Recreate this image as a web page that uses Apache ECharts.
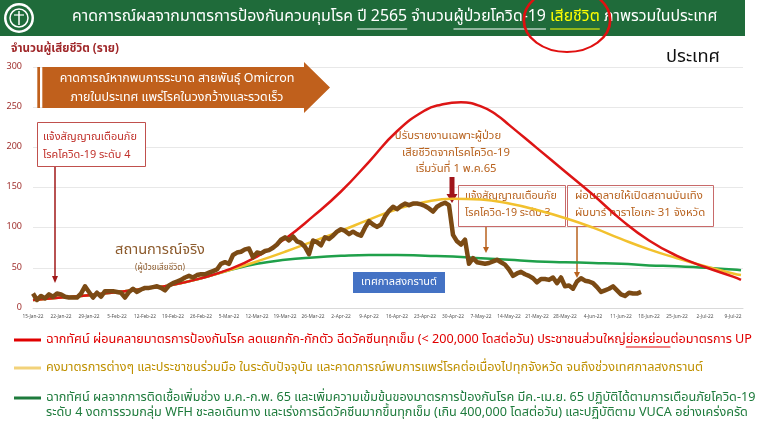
<!DOCTYPE html>
<html><head><meta charset="utf-8">
<script src="https://cdn.jsdelivr.net/npm/echarts@6/dist/echarts.min.js"></script>
<style>html,body{margin:0;padding:0;background:#fff}#c{width:759px;height:426px}</style>
</head><body><div id="c"></div>
<script>
// ---------------- DATA ----------------
const startDateUTC = Date.UTC(2022, 0, 15);           // day 0 = 15-Jan-22
const monthNames = ['Jan','Feb','Mar','Apr','May','Jun','Jul','Aug','Sep','Oct','Nov','Dec'];
// actual daily deaths, 15-Jan-22 .. 16-Jun-22
const actualDeaths = [
 18,10,15,12,17,14,18,17,14,13,
 13,13,18,27,20,13,19,14,21,21,
 21,20,19,13,20,24,20,23,25,25,
 26,27,25,22,28,31,33,35,38,40,
 38,41,42,42,44,46,48,55,57,55,
 66,69,70,73,74,63,69,68,71,72,
 75,79,85,88,84,89,83,81,76,67,
 84,82,78,88,86,90,95,98,96,92,
 95,92,90,100,108,104,101,104,114,121,
 126,123,127,130,128,130,130,129,127,124,
 120,126,129,131,128,91,83,79,85,55,
 62,57,56,55,56,58,60,57,54,48,
 40,43,45,42,40,37,32,36,36,35,
 38,31,38,27,28,24,33,37,34,33,
 31,26,20,22,24,27,22,17,15,19,
 18,18,20];
// projection curves (day offset from 15-Jan-22)
const redDays        = [0,7,14,21,28,35,42,49,56,63,70,77,84,91,98,102,107,112,116,119,126,133,140,147,154,161,168,175,177];
const redScenario    = [10,13,16,20,24,29,37,48,64,86,114,145,182,220,246,253,256,251,240,228,199,170,141,110,84,65,51,39,35];
const projDays       = [0,7,14,21,28,35,42,49,56,63,70,77,84,91,98,105,112,119,126,133,140,147,154,161,168,175,177];
const yellowScenario = [10,13,16,20,24,29,37,47,58,70,83,96,110,123,132,136,135,130,122,112,100,86,73,62,52,43,41];
const greenScenario  = [10,13,16,20,24,29,37,47,55,60,63,65,66,66,65,64,62,60,58,57,56,55,53,52,50,48,47];

const redName    = 'ฉากทัศน์ ผ่อนคลายมาตรการป้องกันโรค ลดแยกกัก-กักตัว ฉีดวัคซีนทุกเข็ม (< 200,000 โดสต่อวัน) ประชาชนส่วนใหญ่ย่อหย่อนต่อมาตรการ UP';
const yellowName = 'คงมาตรการต่างๆ และประชาชนร่วมมือ ในระดับปัจจุบัน และคาดการณ์พบการแพร่โรคต่อเนื่องไปทุกจังหวัด จนถึงช่วงเทศกาลสงกรานต์';
const greenName  = 'ฉากทัศน์ ผลจากการติดเชื้อเพิ่มช่วง ม.ค.-ก.พ. 65 และเพิ่มความเข้มข้นของมาตรการป้องกันโรค มีค.-เม.ย. 65 ปฏิบัติได้ตามการเตือนภัยโควิด-19';
const greenLine2 = 'ระดับ 4 งดการรวมกลุ่ม WFH ชะลอเดินทาง และเร่งการฉีดวัคซีนมากขึ้นทุกเข็ม (เกิน 400,000 โดสต่อวัน) และปฏิบัติตาม VUCA อย่างเคร่งครัด';
const actualName = 'สถานการณ์จริง';

const titleParts = [
 ['คาดการณ์ผลจากมาตรการป้องกันควบคุมโรค ', '#ffffff', false],
 ['ปี 2565', '#ffffff', true],
 [' จำนวน', '#ffffff', false],
 ['ผู้ป่วยโควิด-19', '#ffffff', true],
 [' ', '#ffffff', false],
 ['เสียชีวิต', '#ffff00', true],
 [' ภาพรวมในประเทศ', '#ffffff', false]
];

// ---------------- HELPERS ----------------
const FONT = '"Noto Sans Thai","Noto Sans","Noto Sans CJK SC",sans-serif';
const cv = document.createElement('canvas').getContext('2d');
function tw(text, size, weight) { cv.font = (weight || 'normal') + ' ' + size + 'px ' + FONT; return cv.measureText(text).width; }
function fitSize(text, base, target, weight) { const w = tw(text, base, weight); return Math.max(4, Math.min(base * 1.6, base * target / w)); }
function T(x, y, text, color, size, o) {
  o = o || {};
  return { type: 'text', x: x, y: y, z: o.z || 1, style: {
    text: text, fill: color, fontSize: size, fontFamily: FONT, fontWeight: o.weight || 'normal',
    align: o.align || 'left', textAlign: o.align || 'left', verticalAlign: 'middle', textVerticalAlign: 'middle' } };
}
function R(x, y, w, h, fill, stroke, lw) {
  return { type: 'rect', z: 1, shape: { x: x, y: y, width: w, height: h }, style: { fill: fill || 'none', stroke: stroke || 'none', lineWidth: lw || 1 } };
}
function L(x1, y1, x2, y2, color, lw, z) {
  return { type: 'line', z: z || 1, shape: { x1: x1, y1: y1, x2: x2, y2: y2 }, style: { stroke: color, lineWidth: lw } };
}
function downArrow(x, y1, y2, color, lw, hw, hl) {
  return [L(x, y1, x, y2 - hl + 1, color, lw),
    { type: 'polygon', z: 1, shape: { points: [[x - hw, y2 - hl], [x + hw, y2 - hl], [x, y2]] }, style: { fill: color } }];
}
function fmtDay(d) {
  const dt = new Date(startDateUTC + d * 86400000);
  return dt.getUTCDate() + '-' + monthNames[dt.getUTCMonth()] + '-22';
}

// ---------------- GRAPHICS ----------------
const g = [];
// banner
g.push(R(0, 0, 745, 36, '#1f6b3a'));
g.push({ type: 'circle', z: 2, shape: { cx: 19, cy: 18, r: 15 }, style: { fill: '#ffffff' } });
g.push({ type: 'circle', z: 2, shape: { cx: 19, cy: 18, r: 12.5 }, style: { fill: '#1f6b3a' } });
g.push({ type: 'circle', z: 2, shape: { cx: 19, cy: 18, r: 9 }, style: { fill: 'none', stroke: '#ffffff', lineWidth: 1.5 } });
g.push(L(19, 11, 19, 25, '#ffffff', 1.5, 2));
g.push(L(14, 15, 24, 15, '#ffffff', 1.2, 2));

// title with measured underline positions
(function () {
  const full = titleParts.map(p => p[0]).join('');
  const fs = fitSize(full, 17, 646);
  let x = 72;
  titleParts.forEach(p => {
    const w = tw(p[0], fs);
    g.push(T(x, 18, p[0], p[1], fs, { z: 3 }));
    if (p[2]) g.push(L(x, 29, x + w, 29, p[1], 1.2, 3));
    x += w;
  });
})();
// red hand-drawn ellipse
g.push({ type: 'circle', z: 5, x: 567, y: 20, scaleX: 1.08, scaleY: 0.8, shape: { cx: 0, cy: 0, r: 40 },
  style: { fill: 'none', stroke: '#e01010', lineWidth: 2.5 } });

// axis title and country label
g.push(T(11, 50, 'จำนวนผู้เสียชีวิต (ราย)', '#a0282a', fitSize('จำนวนผู้เสียชีวิต (ราย)', 10, 108, 'bold'), { weight: 'bold' }));
g.push(T(693, 58, 'ประเทศ', '#111111', fitSize('ประเทศ', 18, 54), { align: 'center' }));

// orange arrow banner
g.push(R(37.3, 67, 2.7, 41, '#c0601c'));
g.push(R(42.3, 67, 2.7, 41, '#c0601c'));
g.push({ type: 'polygon', z: 1, shape: { points: [[45, 67], [304, 67], [304, 62], [330, 87.5], [304, 113], [304, 108], [45, 108]] }, style: { fill: '#c0601c' } });
(function () {
  const a = 'คาดการณ์หากพบการระบาด สายพันธุ์ Omicron', b = 'ภายในประเทศ แพร่โรคในวงกว้างและรวดเร็ว';
  const fs = fitSize(a, 13, 235);
  g.push(T(177, 79, a, '#ffffff', fs, { align: 'center' }));
  g.push(T(177, 98, b, '#ffffff', fs, { align: 'center' }));
})();

// box 1 (level 4)
g.push(R(37.5, 122.5, 108, 44, '#ffffff', '#c0504d', 1));
(function () {
  const a = 'แจ้งสัญญาณเตือนภัย', b = 'โรคโควิด-19 ระดับ 4';
  const fs = fitSize(a, 12, 94);
  g.push(T(43, 138, a, '#c0302a', fs));
  g.push(T(43, 156, b, '#c0302a', fs));
})();
downArrow(55, 167, 283, '#a01818', 1.5, 3, 7).forEach(e => g.push(e));

// actual situation label
g.push(T(160, 251, 'สถานการณ์จริง', '#8c5a2c', fitSize('สถานการณ์จริง', 17, 90), { align: 'center' }));
g.push(T(160, 268, '(ผู้ป่วยเสียชีวิต)', '#8c5a2c', fitSize('(ผู้ป่วยเสียชีวิต)', 8, 50), { align: 'center' }));

// Songkran box
g.push(R(353, 272, 92, 21, '#4472c4'));
g.push(T(399, 282.5, 'เทศกาลสงกรานต์', '#ffffff', fitSize('เทศกาลสงกรานต์', 11, 76), { align: 'center' }));

// reporting change note
(function () {
  const a = 'ปรับรายงานเฉพาะผู้ป่วย', b = 'เสียชีวิตจากโรคโควิด-19', c = 'เริ่มวันที่ 1 พ.ค.65';
  const fs = fitSize(b, 12, 108);
  g.push(T(448, 137, a, '#b8621e', fs, { align: 'center' }));
  g.push(T(456, 154, b, '#b8621e', fs, { align: 'center' }));
  g.push(T(456, 170, c, '#b8621e', fs, { align: 'center' }));
})();
g.push({ type: 'polygon', z: 1, shape: { points: [[449.5, 177], [454.5, 177], [454.5, 194], [457.5, 194], [452, 203], [446.5, 194], [449.5, 194]] }, style: { fill: '#a0141a' } });

// box 2 (level 3)
g.push(R(458.5, 185.5, 107, 41, 'none', '#c86a6a', 1));
(function () {
  const a = 'แจ้งสัญญาณเตือนภัย', b = 'โรคโควิด-19 ระดับ 3';
  const fs = fitSize(a, 12, 92);
  g.push(T(465, 197, a, '#b8621e', fs));
  g.push(T(465, 214, b, '#b8621e', fs));
})();
downArrow(486, 227, 253, '#b8621e', 1.5, 3, 6).forEach(e => g.push(e));

// box 3 (entertainment)
g.push(R(567.5, 185.5, 146, 41, 'none', '#c86a6a', 1));
(function () {
  const a = 'ผ่อนคลายให้เปิดสถานบันเทิง', b = 'ผับบาร์ คาราโอเกะ 31 จังหวัด';
  const fs = fitSize(a, 12, 128);
  g.push(T(575, 197, a, '#b8621e', fs));
  g.push(T(575, 214, b, '#b8621e', fs));
})();
downArrow(577, 227, 278, '#b8621e', 1.5, 3, 6).forEach(e => g.push(e));

// legend sizing
const LEG_LEFT = 14, LEG_ICON_W = 27, LEG_TEXT_X = LEG_LEFT + LEG_ICON_W + 5;
const legFs = fitSize(redName, 11.5, 753 - LEG_TEXT_X);
g.push(T(LEG_TEXT_X, 413, greenLine2, '#1e7b3c', legFs));
(function () {
  const idx = redName.indexOf('ย่อหย่อน');
  const x0 = LEG_TEXT_X + tw(redName.slice(0, idx), legFs);
  const x1 = x0 + tw('ย่อหย่อน', legFs);
  g.push(L(x0, 347, x1, 347, '#e00000', 1, 3));
})();

// ---------------- CHART ----------------
const toPairs = (days, vals) => days.map((d, i) => [d, vals[i]]);
const actualPairs = actualDeaths.map((v, i) => [i, v]);

function legendFor(name, color, top) {
  return { data: [{ name: name, textStyle: { color: color } }], left: LEG_LEFT, top: top, padding: 0,
    icon: 'rect', itemWidth: LEG_ICON_W, itemHeight: 3, selectedMode: false,
    textStyle: { fontSize: legFs, fontFamily: FONT, lineHeight: 16 } };
}

const chart = echarts.init(document.getElementById('c'), null, { renderer: 'canvas' });
chart.setOption({
  animation: false,
  grid: { left: 33, right: 16, top: 67, bottom: 118, containLabel: false },
  xAxis: {
    type: 'value', min: 0, max: 177.5, interval: 7,
    axisLine: { show: true, lineStyle: { color: '#d9d9d9' } },
    axisTick: { show: false },
    splitLine: { show: false },
    axisLabel: { fontSize: 4.8, color: '#555555', margin: 7, fontFamily: FONT, showMaxLabel: false,
      formatter: v => (v % 7 === 0 ? fmtDay(v) : '') }
  },
  yAxis: {
    type: 'value', min: 0, max: 300, interval: 50,
    axisLine: { show: false }, axisTick: { show: false },
    splitLine: { lineStyle: { color: '#e8e8e8' } },
    axisLabel: { fontSize: 9, color: '#a0302e', margin: 11, fontFamily: FONT }
  },
  legend: [
    legendFor(redName, '#e00000', 332),
    legendFor(yellowName, '#bf9000', 360),
    legendFor(greenName, '#1e7b3c', 390)
  ],
  graphic: { elements: g },
  series: [
    { name: greenName, type: 'line', data: toPairs(projDays, greenScenario), smooth: 0.5, showSymbol: false,
      lineStyle: { color: '#1fa04a', width: 2.5 }, itemStyle: { color: '#1e7b3c' }, z: 3 },
    { name: yellowName, type: 'line', data: toPairs(projDays, yellowScenario), smooth: 0.5, showSymbol: false,
      lineStyle: { color: '#f2c12e', width: 2.5 }, itemStyle: { color: '#f2d27a' }, z: 4 },
    { name: redName, type: 'line', data: toPairs(redDays, redScenario), smooth: 0.5, showSymbol: false,
      lineStyle: { color: '#dd1515', width: 2.5 }, itemStyle: { color: '#e00000' }, z: 5 },
    { name: actualName, type: 'line', data: actualPairs, showSymbol: false,
      lineStyle: { color: '#7b4a14', width: 4.5, join: 'round' }, itemStyle: { color: '#7b4a14' }, z: 6 }
  ]
});
</script>
</body></html>
